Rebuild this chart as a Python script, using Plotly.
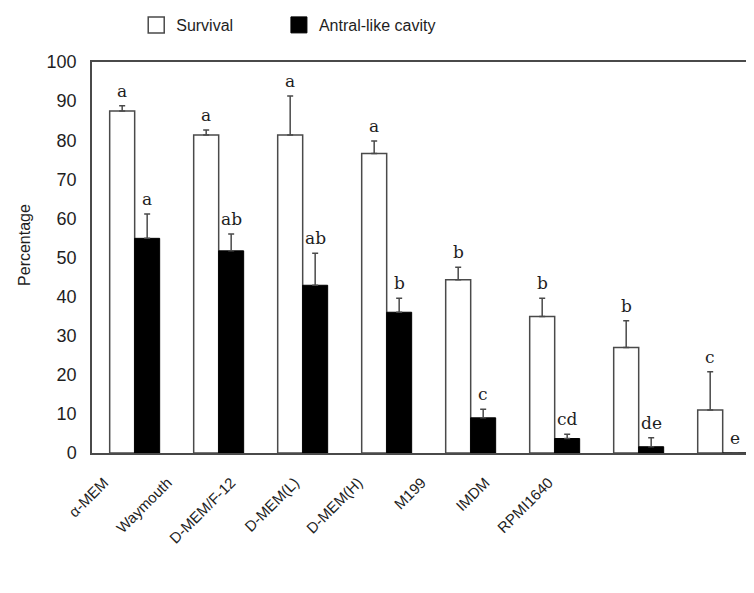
import plotly.graph_objects as go
import numpy as np

categories = ["α-MEM", "Waymouth", "D-MEM/F-12", "D-MEM(L)", "D-MEM(H)", "M199", "IMDM", "RPMI1640"]
survival = [87.5, 81.3, 81.3, 76.6, 44.3, 34.9, 27.0, 11.0]
survival_err = [1.3, 1.3, 10.0, 3.2, 3.2, 4.7, 6.8, 9.8]
antral = [54.9, 51.7, 42.9, 36.0, 9.0, 3.7, 1.6, 0.0]
antral_err = [6.2, 4.3, 8.2, 3.6, 2.2, 1.1, 2.3, 0.0]
survival_letters = ["a", "a", "a", "a", "b", "b", "b", "c"]
antral_letters = ["a", "ab", "ab", "b", "c", "cd", "de", "e"]

idx = np.arange(len(categories))
bargap = 0.405
half = (1 - bargap) / 4

line_col = "#4a4a4a"
txt_col = "#1e1e1e"

fig = go.Figure()
fig.add_trace(go.Bar(
    x=idx, y=survival, name="Survival", showlegend=False,
    marker=dict(color="white", line=dict(color=line_col, width=1.5)),
    error_y=dict(type="data", array=survival_err, arrayminus=[0] * len(idx), symmetric=False,
                 color=line_col, thickness=1.5, width=3),
))
fig.add_trace(go.Bar(
    x=idx, y=antral, name="Antral-like cavity", showlegend=False,
    marker=dict(color="black", line=dict(color="black", width=1)),
    error_y=dict(type="data", array=antral_err, arrayminus=[0] * len(idx), symmetric=False,
                 color=line_col, thickness=1.5, width=3),
))
# legend entries (larger boxes), one legend each so they can be spaced like the original
fig.add_trace(go.Scatter(x=[None], y=[None], mode="markers", name="Survival", legend="legend",
                         marker=dict(symbol="square", size=20, color="white",
                                     line=dict(color=line_col, width=1.5))))
fig.add_trace(go.Scatter(x=[None], y=[None], mode="markers", name="Antral-like cavity", legend="legend2",
                         marker=dict(symbol="square", size=20, color="black",
                                     line=dict(color="black", width=1))))
# carrier for the category label axis
fig.add_trace(go.Scatter(x=idx, y=[0] * len(idx), xaxis="x2", mode="markers",
                         marker=dict(opacity=0), showlegend=False, hoverinfo="skip"))

annots = []
for i in idx:
    annots.append(dict(x=i - half, y=survival[i] + survival_err[i], text=survival_letters[i],
                       showarrow=False, yanchor="bottom", yshift=3,
                       font=dict(family="DejaVu Serif", size=17, color=txt_col)))
    annots.append(dict(x=i + half, y=antral[i] + antral_err[i], text=antral_letters[i],
                       showarrow=False, yanchor="bottom", yshift=3,
                       font=dict(family="DejaVu Serif", size=17, color=txt_col)))
annots.append(dict(xref="paper", yref="paper", x=-0.101, y=0.533, text="Percentage",
                   textangle=-90, showarrow=False, xanchor="center", yanchor="middle",
                   font=dict(family="Liberation Sans", size=16, color=txt_col)))

leg_font = dict(family="Liberation Sans", size=16, color=txt_col)
fig.update_layout(
    width=754, height=593,
    margin=dict(l=84, r=0, t=53, b=148),
    paper_bgcolor="white", plot_bgcolor="white",
    barmode="group", bargap=bargap, bargroupgap=0,
    showlegend=True,
    legend=dict(orientation="h", x=0.066, xanchor="left", y=1.094, yanchor="middle",
                font=leg_font, itemsizing="trace", itemwidth=30),
    legend2=dict(orientation="h", x=0.279, xanchor="left", y=1.094, yanchor="middle",
                 font=leg_font, itemsizing="trace", itemwidth=30),
    xaxis=dict(range=[-0.508, 7.468], showticklabels=False, ticks="", showgrid=False,
               zeroline=False, showline=True, linecolor=line_col, linewidth=1.5, mirror=True),
    xaxis2=dict(overlaying="x", anchor="y", side="bottom", range=[-0.191, 10.359],
                tickmode="array", tickvals=list(idx), ticktext=categories, tickangle=-45,
                showgrid=False, zeroline=False, showline=False, ticks="outside", ticklen=14,
                tickcolor="rgba(0,0,0,0)",
                tickfont=dict(family="Liberation Sans", size=15, color=txt_col)),
    yaxis=dict(range=[0, 100], dtick=10, showgrid=False, zeroline=False,
               showline=True, linecolor=line_col, linewidth=1.5, ticks="outside",
               ticklen=10, tickcolor="rgba(0,0,0,0)",
               tickfont=dict(family="Liberation Sans", size=18, color=txt_col)),
    annotations=annots,
)

fig.write_html("out.html")
